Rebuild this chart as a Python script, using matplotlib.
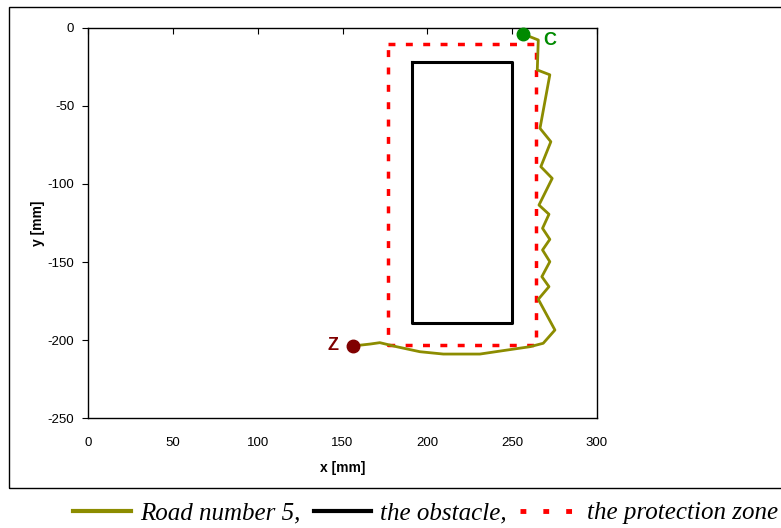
import matplotlib.pyplot as plt
from matplotlib.lines import Line2D
from matplotlib.patches import Rectangle

# road number 5 (from C to Z)
road_x = [256.3, 265.4, 264.8, 272.2, 266.4, 272.8, 266.9, 273.6, 265.8, 271.7,
          267.9, 272.2, 267.9, 272.2, 267.5, 271.7, 265.4, 275.2, 268.3, 260.4,
          244.7, 231.0, 209.4, 195.6, 181.9, 172.0, 166.2, 156.3]
road_y = [-3.8, -7.7, -26.9, -30.0, -64.3, -72.9, -88.9, -96.4, -113.5, -119.4,
          -128.4, -135.5, -142.3, -149.8, -159.4, -165.8, -173.9, -193.6, -202.1, -204.3,
          -206.8, -209.0, -209.0, -207.5, -204.3, -201.7, -202.6, -203.8]

obstacle_x = [191, 250, 250, 191, 191]
obstacle_y = [-22, -22, -189, -189, -22]

zone_x = [177, 264, 264, 177, 177]
zone_y = [-10, -10, -203, -203, -10]

point_c = (256.3, -3.8)
point_z = (156.3, -203.8)

plt.rcParams['font.family'] = ['Liberation Sans', 'DejaVu Sans']
plt.rcParams['axes.unicode_minus'] = False

fig = plt.figure(figsize=(7.81, 5.28), dpi=100)
fig.patches.append(Rectangle((0.011, 0.076), 1.2, 0.911, transform=fig.transFigure,
                             fill=False, edgecolor='black', linewidth=1.0))

ax = fig.add_axes([0.1127, 0.2083, 0.6517, 0.7387])

ax.plot(zone_x, zone_y, color='red', linewidth=2.5, linestyle=(0, (2, 3)))
ax.plot(obstacle_x, obstacle_y, color='black', linewidth=2.2)
ax.plot(road_x, road_y, color='#8c8c00', linewidth=2)
ax.plot(*point_c, 'o', color='#008a00', markersize=9, clip_on=False, zorder=5)
ax.plot(*point_z, 'o', color='#800000', markersize=9, clip_on=False, zorder=5)
ax.text(point_c[0] + 16, point_c[1] - 4, 'C', color='#008a00', fontsize=13,
        fontweight='bold', ha='center', va='center')
ax.text(point_z[0] - 12, point_z[1], 'Z', color='#800000', fontsize=13,
        fontweight='bold', ha='center', va='center')

ax.set_xlim(0, 300)
ax.set_ylim(-250, 0)
ax.set_xticks([0, 50, 100, 150, 200, 250, 300])
ax.set_yticks([0, -50, -100, -150, -200, -250])
ax.tick_params(axis='x', bottom=False, top=True, direction='in', length=4,
               labelbottom=True, labelsize=9.5, pad=14)
ax.tick_params(axis='y', direction='out', length=4, labelsize=9.5, pad=6)
for s in ax.spines.values():
    s.set_linewidth(1.0)

ax.set_xlabel('x [mm]', fontsize=10, fontweight='bold', labelpad=8)
ax.set_ylabel('y [mm]', fontsize=10, fontweight='bold', labelpad=2)

handles = [
    Line2D([], [], color='#8c8c00', linewidth=3),
    Line2D([], [], color='black', linewidth=3),
    Line2D([], [], color='red', linewidth=3.5, linestyle=(0, (1.2, 3.5))),
]
labels = ['Road number 5,', 'the obstacle,', 'the protection zone']
fig.legend(handles, labels, loc='center', bbox_to_anchor=(0.545, 0.028), ncol=3,
           frameon=False, handlelength=2.3, handletextpad=0.35, columnspacing=0.55,
           prop={'family': 'Liberation Serif', 'style': 'italic', 'size': 18})

fig.savefig('out.png', dpi=100)
